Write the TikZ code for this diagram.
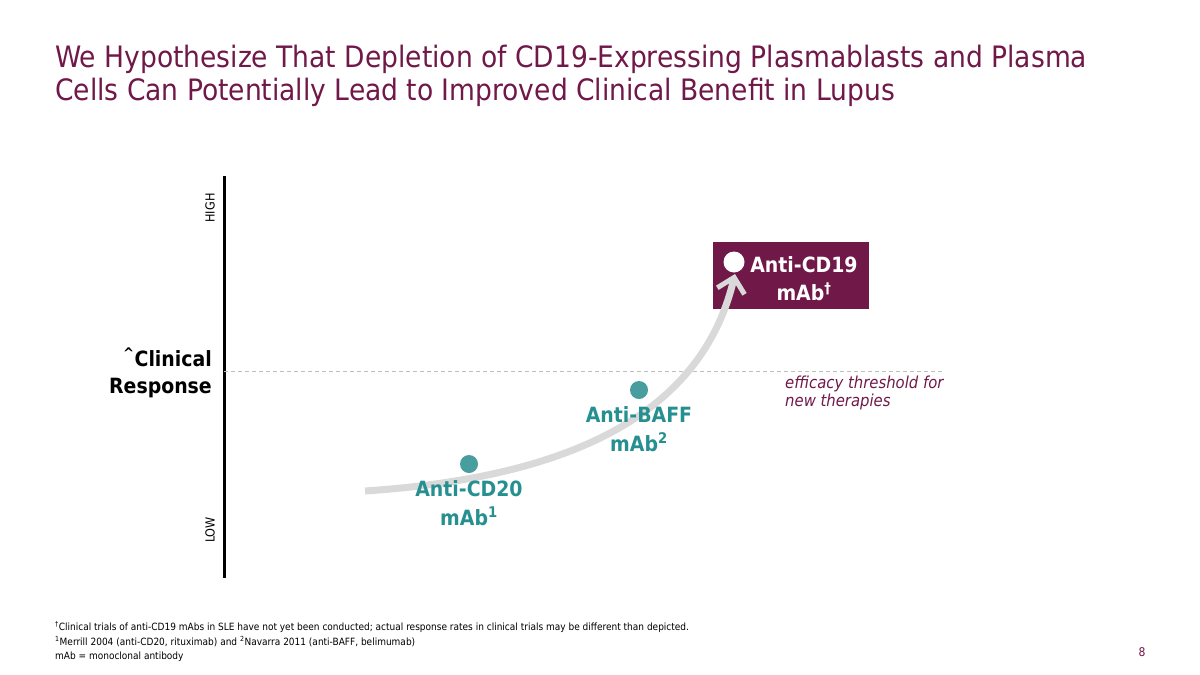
\documentclass[tikz,border=0pt]{standalone}
\usepackage{fontspec}
\setmainfont{DejaVu Sans Condensed}
\usetikzlibrary{arrows.meta}

\newlength{\du}
\setlength{\du}{1pt}

\definecolor{slidepurple}{RGB}{112,24,72}
\definecolor{slideteal}{RGB}{38,143,143}
\definecolor{dotteal}{RGB}{72,158,158}
\definecolor{curvegray}{RGB}{217,217,217}
\definecolor{threshgray}{RGB}{190,190,190}

\tikzset{
  titletext/.style={anchor=base west, text=slidepurple, font=\fontsize{29.5}{34}\selectfont, inner sep=0pt},
  axislabel/.style={rotate=90, font=\fontsize{12.5}{14}\selectfont, inner sep=0pt},
  druglabel/.style={align=center, text=slideteal, font=\bfseries\fontsize{21}{29}\selectfont, inner sep=0pt},
  drugdot/.style={circle, fill=dotteal, minimum size=18\du, inner sep=0pt},
  notetext/.style={anchor=base west, font=\fontsize{10}{12}\selectfont, inner sep=0pt},
}

\begin{document}
\begin{tikzpicture}[x=1\du, y=-1\du]
\useasboundingbox (0,0) rectangle (1200,675);

% title
\node[titletext] (title1) at (55,67) {We Hypothesize That Depletion of CD19-Expressing Plasmablasts and Plasma};
\node[titletext] (title2) at (55,100) {Cells Can Potentially Lead to Improved Clinical Benefit in Lupus};

% axis
\coordinate (axtop) at (224,176);
\coordinate (axbot) at (224,578);
\draw[line width=3\du] (axtop) -- (axbot);
\node[axislabel] (high) at (210,208) {HIGH};
\node[axislabel] (low) at (210,530) {LOW};
\node[align=right, anchor=east, font=\bfseries\fontsize{21}{27}\selectfont, inner sep=0pt] (response) at (212,373) {\textsuperscript{\^{}}Clinical\\Response};

% threshold
\coordinate (thleft) at (224,371);
\coordinate (thright) at (945,371);
\draw[threshgray, line width=0.8\du, dash pattern=on 4\du off 3\du] (thleft) -- (thright);
\node[anchor=north west, align=left, text=slidepurple, font=\itshape\fontsize{16.5}{18}\selectfont, inner sep=0pt] (thresh) at (785,376) {efficacy threshold for\\new therapies};

% target box
\node[fill=slidepurple, minimum width=156\du, minimum height=67\du, inner sep=0pt] (cd19box) at (791,275.5) {};
\node[align=center, text=white, font=\bfseries\fontsize{21}{28}\selectfont, inner sep=0pt] (cd19) at (804,279) {Anti-CD19\\mAb\textsuperscript{\dag}};

% curve
\coordinate (cstart) at (365,491);
\coordinate (ctip) at (735,274);
\draw[curvegray, line width=7\du, -{Straight Barb[length=14pt, width=28pt, line width=5pt]}]
  (cstart) .. controls (560,478) and (700,420) .. (ctip);
\node[circle, fill=white, minimum size=21\du, inner sep=0pt] (cd19dot) at (734,262) {};

% drugs
\node[drugdot] (cd20dot) at (469,464) {};
\node[druglabel, anchor=north] (cd20) at (469,480) {Anti-CD20\\mAb\textsuperscript{1}};
\node[drugdot] (baffdot) at (639,390) {};
\node[druglabel, anchor=north] (baff) at (639,406) {Anti-BAFF\\mAb\textsuperscript{2}};

% footnotes
\node[notetext] (note1) at (55,630) {\textsuperscript{\dag}Clinical trials of anti-CD19 mAbs in SLE have not yet been conducted; actual response rates in clinical trials may be different than depicted.};
\node[notetext] (note2) at (55,645) {\textsuperscript{1}Merrill 2004 (anti-CD20, rituximab) and \textsuperscript{2}Navarra 2011 (anti-BAFF, belimumab)};
\node[notetext] (note3) at (55,659) {mAb = monoclonal antibody};
\node[anchor=base, text=slidepurple, font=\fontsize{12}{14}\selectfont, inner sep=0pt] (pagenum) at (1142,656) {8};
\end{tikzpicture}
\end{document}
